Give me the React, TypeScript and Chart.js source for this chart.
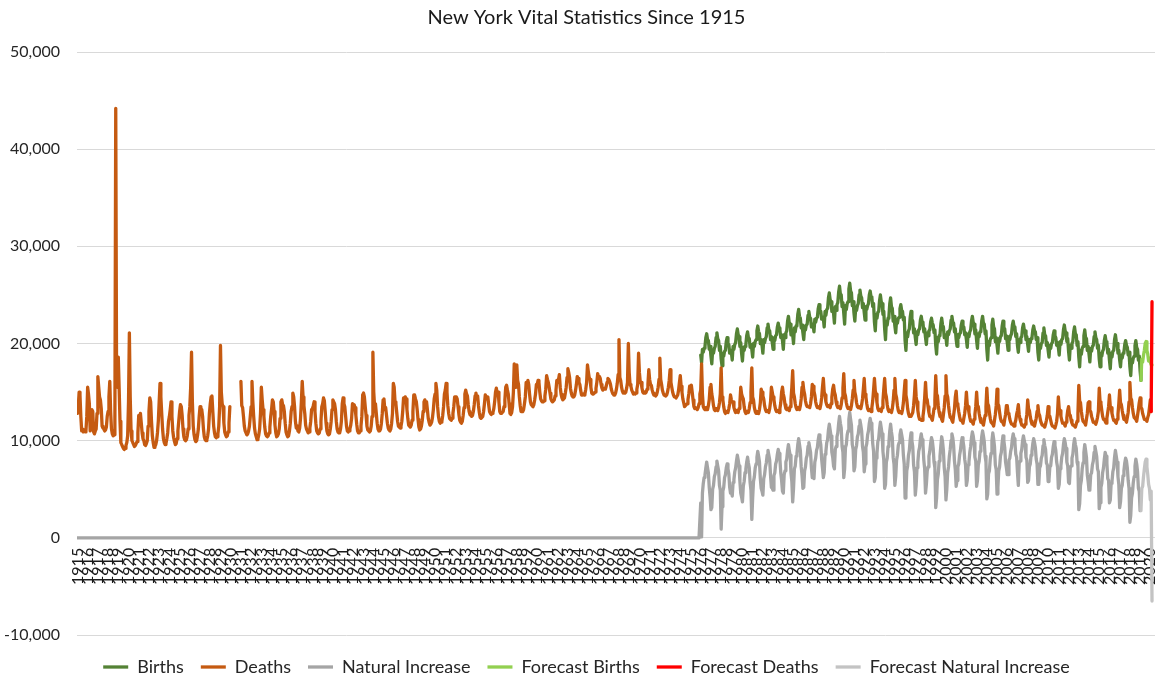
import React, { useEffect, useRef } from 'react';
import { Chart, registerables } from 'chart.js';

Chart.register(...registerables);

// ---------- categories ----------
const firstYear = 1915;
const birthsFirstYear = 1976;
const lastCategory = { year: 2020, month: 6 }; // axis runs to Jun 2020
const yearLabels = [
  1915, 1916, 1917, 1918, 1919, 1920, 1921, 1922, 1923, 1924, 1925, 1926, 1927, 1928, 1929,
  1930, 1931, 1932, 1933, 1934, 1935, 1936, 1937, 1938, 1939, 1940, 1941, 1942, 1943, 1944,
  1945, 1946, 1947, 1948, 1949, 1950, 1951, 1952, 1953, 1954, 1955, 1956, 1957, 1958, 1959,
  1960, 1961, 1962, 1963, 1964, 1965, 1966, 1967, 1968, 1969, 1970, 1971, 1972, 1973, 1974,
  1975, 1976, 1977, 1978, 1979, 1980, 1981, 1982, 1983, 1984, 1985, 1986, 1987, 1988, 1989,
  1990, 1991, 1992, 1993, 1994, 1995, 1996, 1997, 1998, 1999, 2000, 2001, 2002, 2003, 2004,
  2005, 2006, 2007, 2008, 2009, 2010, 2011, 2012, 2013, 2014, 2015, 2016, 2017, 2018, 2019,
  2020,
];
const yTicks = [-10000, 0, 10000, 20000, 30000, 40000, 50000];

// ---------- monthly deaths (Jan..Dec per row) ----------
const deaths1915to1929 = [
  [12800, 13500, 15000, 14700, 12500, 11000, 11200, 10900, 11100, 10900, 11000, 12500],
  [15500, 14800, 13800, 11000, 11200, 13200, 13000, 10900, 10700, 11000, 11200, 12800],
  [16600, 15500, 14500, 14200, 13300, 11500, 11300, 11200, 11000, 11100, 11400, 12500],
  [13000, 14500, 16100, 13000, 11200, 10700, 10500, 10600, 12000, 44200, 16000, 15500],
  [18600, 15400, 12000, 9800, 9600, 9400, 9200, 9100, 9200, 9500, 9800, 10500],
  [14000, 21100, 14500, 11000, 10000, 9800, 9600, 9400, 9500, 9700, 9900, 10800],
  [12600, 12000, 12800, 11800, 10800, 10200, 10000, 9600, 9500, 9700, 10000, 11500],
  [13000, 14400, 14000, 12000, 10500, 9800, 9300, 9400, 9600, 10000, 10800, 12000],
  [14000, 15900, 14500, 12800, 11200, 10200, 9800, 9600, 9700, 10200, 10800, 12000],
  [12500, 13200, 14000, 12500, 11000, 10300, 9900, 9600, 9700, 10200, 11000, 12000],
  [13000, 13700, 13500, 12600, 11200, 10400, 10100, 10000, 10100, 10500, 11200, 12600],
  [13500, 15500, 19100, 14000, 11500, 10600, 10100, 9900, 10000, 10500, 11200, 12500],
  [13500, 13000, 13200, 12500, 11200, 10400, 10100, 10000, 10100, 10500, 11200, 12800],
  [13800, 14500, 14600, 13000, 11500, 10800, 10400, 10300, 10400, 10700, 11500, 13500],
  [19800, 15000, 13800, 13500, 11800, 10900, 10600, 10400, 10500, 10900, 11800, 13500],
];
const deaths1930to1949 = [
  [null, null, null, null, null, null, null, null, null, null, null, null],
  [16100, 13600, 13400, 12500, 11500, 11000, 10800, 10600, 10700, 11000, 11500, 12500],
  [13500, 16100, 14000, 12500, 11300, 10700, 10400, 10100, 10200, 10600, 11200, 12800],
  [15500, 14200, 13200, 12500, 11400, 10700, 10500, 10400, 10500, 10800, 11400, 12500],
  [13200, 14200, 14000, 13000, 11600, 10800, 10400, 10500, 10700, 11200, 12300, 14000],
  [14200, 13700, 13600, 13000, 11800, 10900, 10600, 10400, 10500, 11000, 11800, 13000],
  [13500, 14900, 14500, 13500, 12000, 11300, 11500, 11000, 10900, 11300, 12300, 14000],
  [16100, 14500, 13600, 12800, 11600, 11200, 11000, 10800, 10900, 11300, 12000, 13200],
  [13300, 13600, 14000, 13000, 11800, 11000, 10800, 10700, 10800, 11200, 12000, 13500],
  [13800, 14400, 14100, 13000, 11800, 11000, 10700, 10600, 10700, 11200, 12000, 13200],
  [14200, 14000, 13800, 13200, 12000, 11200, 10900, 10800, 10800, 11200, 12000, 13800],
  [14400, 13800, 13500, 12500, 11500, 11000, 10900, 11000, 11200, 11600, 12300, 13800],
  [13500, 13700, 13400, 12600, 11700, 11000, 10800, 10800, 11000, 11500, 12500, 14700],
  [14900, 14500, 13500, 12600, 11500, 11100, 11000, 10900, 11000, 11500, 12500, 19100],
  [15000, 13500, 13800, 12800, 11800, 11200, 11000, 11000, 11200, 11800, 12800, 14200],
  [14300, 13200, 13400, 12600, 11800, 11300, 11100, 11000, 11200, 11800, 12800, 15900],
  [15500, 14000, 13800, 12900, 12000, 11500, 11400, 11300, 11500, 12000, 13000, 14400],
  [14200, 14500, 14300, 13200, 12300, 11600, 11500, 11400, 11600, 12100, 13000, 14700],
  [14700, 14300, 14000, 13200, 12200, 11400, 11100, 11200, 11500, 12100, 13000, 14000],
  [14200, 13800, 14000, 13200, 12300, 11900, 11600, 11700, 11900, 12400, 13200, 14300],
];
const deaths1950to1969 = [
  [14800, 15900, 15200, 13500, 12500, 12000, 11800, 11900, 12000, 12600, 13500, 14800],
  [15200, 15900, 15000, 13600, 12800, 12300, 12200, 12100, 12300, 12800, 13500, 14500],
  [14500, 14500, 14300, 13500, 12700, 12100, 11900, 11800, 12000, 12600, 13400, 14800],
  [15200, 14800, 14600, 13700, 13000, 12700, 12600, 12500, 12600, 13000, 13700, 14600],
  [14900, 14400, 14600, 13600, 12900, 12400, 12300, 12300, 12500, 13000, 13800, 14700],
  [14500, 14300, 14500, 13700, 13000, 12800, 12700, 12800, 12900, 13300, 14000, 15000],
  [15400, 14800, 15000, 14000, 13000, 12800, 12800, 12900, 13000, 13500, 14200, 15500],
  [15700, 15200, 14800, 13800, 12800, 12700, 12900, 13500, 15000, 17900, 15500, 16500],
  [17800, 16200, 15800, 14500, 13600, 13000, 13100, 13000, 13200, 13800, 14500, 16000],
  [16000, 16200, 15800, 14800, 14000, 13700, 13600, 13500, 13700, 14200, 14800, 15800],
  [15800, 16200, 16000, 15000, 14300, 14100, 14000, 14000, 14100, 14600, 15300, 16700],
  [16300, 16000, 15500, 14900, 14300, 14100, 14000, 14100, 14200, 14600, 15200, 16200],
  [16000, 16300, 16800, 15500, 14800, 14400, 14200, 14300, 14400, 14900, 15500, 16500],
  [17400, 17000, 16500, 15400, 14900, 14600, 14500, 14500, 14700, 15200, 15800, 16600],
  [16400, 16000, 15800, 15200, 14700, 14700, 14800, 14700, 14800, 15300, 16000, 17800],
  [17100, 16500, 16300, 15500, 14900, 14800, 14800, 14900, 15000, 15400, 16000, 16900],
  [16500, 16600, 16400, 15800, 15400, 15200, 15400, 15300, 15300, 15600, 16000, 16400],
  [16300, 16100, 15800, 15300, 15000, 14800, 14700, 14700, 14900, 15300, 15900, 16800],
  [20400, 16500, 16200, 15500, 15100, 14900, 15000, 14900, 15000, 15400, 16000, 20000],
  [17000, 15800, 15600, 15200, 15000, 14800, 14900, 14800, 14900, 15300, 15800, 19000],
];
const deaths1970to1989 = [
  [17000, 16000, 16000, 15400, 15000, 14900, 15000, 14900, 15000, 15300, 15800, 17300],
  [16300, 15800, 15700, 15200, 14900, 14700, 14700, 14600, 14700, 15000, 15500, 16300],
  [18500, 16300, 15800, 15200, 14900, 14700, 14700, 14600, 14700, 15000, 15500, 16200],
  [17300, 16000, 15500, 15000, 14700, 14500, 14500, 14400, 14400, 14700, 15200, 16000],
  [16700, 15600, 15000, 14300, 13900, 13500, 13600, 13700, 13800, 14200, 14800, 15600],
  [15500, 15700, 15000, 14200, 13500, 13300, 13400, 13300, 13200, 13400, 13800, 14800],
  [15200, 17900, 14800, 13500, 13300, 13200, 13400, 13200, 13200, 13600, 14200, 15500],
  [15800, 14800, 14300, 13600, 13200, 13100, 13300, 13200, 13100, 13400, 13900, 14800],
  [17500, 14500, 14200, 13500, 13000, 12800, 13000, 13000, 12900, 13300, 13800, 14700],
  [14200, 14000, 14000, 13400, 13100, 12900, 13100, 13000, 12900, 13300, 13900, 15500],
  [14800, 14500, 14300, 13500, 13000, 12800, 13000, 12900, 12900, 13300, 13900, 15000],
  [17500, 14500, 14200, 13400, 13000, 12800, 13000, 12900, 12800, 13200, 13900, 15300],
  [15000, 14600, 14300, 13600, 13200, 13000, 13100, 13000, 12900, 13300, 14000, 15500],
  [15000, 14500, 14200, 13600, 13200, 13000, 13100, 13000, 12900, 13300, 13900, 15000],
  [15500, 14800, 14400, 13700, 13300, 13200, 13300, 13200, 13100, 13500, 14200, 15500],
  [17200, 14900, 14500, 13800, 13400, 13200, 13400, 13300, 13200, 13600, 14300, 15500],
  [16000, 15200, 14800, 14100, 13700, 13500, 13500, 13500, 13400, 13800, 14500, 15800],
  [15600, 15100, 14700, 14000, 13600, 13400, 13500, 13400, 13300, 13700, 14400, 15500],
  [16400, 15000, 14700, 14000, 13700, 13500, 13600, 13500, 13400, 13800, 14500, 15300],
  [15700, 15000, 14700, 14000, 13600, 13400, 13500, 13400, 13300, 13700, 14400, 15400],
];
const deaths1990to2009 = [
  [16900, 14900, 14600, 13900, 13500, 13300, 13400, 13300, 13200, 13600, 14300, 15200],
  [16200, 15000, 14600, 13900, 13500, 13400, 13500, 13400, 13300, 13700, 14300, 15300],
  [16400, 14800, 14500, 13800, 13300, 13100, 13200, 13100, 13000, 13400, 14100, 15200],
  [16400, 15100, 14800, 13900, 13300, 13100, 13200, 13100, 13000, 13400, 14100, 15300],
  [16400, 14900, 14500, 13700, 13200, 13000, 13100, 13000, 12900, 13300, 14000, 15200],
  [16400, 14800, 14400, 13600, 13100, 12900, 13000, 12900, 12800, 13200, 13900, 15100],
  [16200, 14700, 14200, 13300, 12800, 12500, 12600, 12500, 12500, 12900, 13600, 14700],
  [16200, 14500, 14000, 13100, 12500, 12200, 12200, 12100, 12100, 12500, 13200, 14400],
  [16000, 14400, 14200, 13500, 12900, 12500, 12500, 12300, 12100, 12700, 13300, 14200],
  [16700, 14800, 14600, 13600, 12900, 12500, 12500, 12200, 12000, 12700, 13400, 14600],
  [16700, 14800, 14500, 13600, 12900, 12400, 12400, 12100, 11900, 12600, 13300, 14500],
  [15100, 13800, 13600, 13000, 12500, 12100, 12100, 12000, 11800, 12300, 12800, 13600],
  [15000, 13700, 13500, 12900, 12400, 12000, 12000, 11900, 11700, 12200, 12700, 13500],
  [15000, 13600, 13500, 12800, 12300, 11900, 11900, 11800, 11600, 12100, 12600, 13500],
  [15400, 13800, 13600, 12900, 12300, 11900, 11900, 11700, 11500, 12100, 12700, 13600],
  [15300, 13800, 13600, 12900, 12300, 12000, 12000, 11800, 11600, 12200, 12700, 13600],
  [13600, 12800, 12700, 12200, 11900, 11700, 11700, 11600, 11500, 11800, 12100, 12700],
  [13100, 13700, 12700, 12200, 11900, 11600, 11600, 11500, 11400, 11700, 12100, 12700],
  [14200, 13300, 13100, 12500, 12000, 11700, 11700, 11600, 11500, 11900, 12300, 13000],
  [13600, 12800, 12600, 12100, 11800, 11600, 11600, 11500, 11400, 11700, 12100, 12600],
];
const deaths2010to2020 = [
  [13500, 12600, 12500, 12100, 11700, 11500, 11500, 11400, 11300, 11600, 12000, 12800],
  [14500, 13300, 13100, 12500, 12100, 11800, 11800, 11700, 11500, 11900, 12400, 13100],
  [13500, 12700, 12600, 12100, 11800, 11600, 11600, 11500, 11400, 11700, 12000, 12800],
  [15700, 14100, 13900, 13000, 12400, 12000, 12000, 11800, 11600, 12200, 12800, 13900],
  [14000, 13100, 13000, 12500, 12200, 11900, 11900, 11800, 11700, 12000, 12400, 13000],
  [15400, 14000, 13800, 13100, 12500, 12200, 12200, 12000, 11800, 12300, 12900, 13500],
  [14700, 13500, 13400, 12800, 12400, 12100, 12100, 11900, 11800, 12200, 12700, 13800],
  [15200, 13900, 13700, 13100, 12600, 12200, 12200, 12100, 11900, 12400, 12900, 14000],
  [16000, 14400, 14200, 13400, 12800, 12400, 12400, 12200, 12000, 12600, 13200, 13900],
  [14400, 13400, 13300, 12800, 12500, 12200, 12200, 12100, 12000, 12400, 12700, 13400],
  [14200, 13000],
];

// ---------- monthly births (Jan..Dec per row), from 1976 ----------
const births1976to1989 = [
  [18800, 18000, 19400, 19100, 19500, 19700, 20600, 21000, 20400, 20300, 19400, 19700],
  [18700, 17900, 19300, 19000, 19500, 19700, 20600, 21100, 20500, 20300, 19300, 19700],
  [18400, 17700, 19000, 18700, 19200, 19300, 20200, 20600, 20000, 19900, 19000, 19300],
  [19100, 18300, 19700, 19400, 19900, 20100, 21000, 21500, 20900, 20700, 19700, 20100],
  [19000, 18200, 19600, 19300, 19700, 19900, 20800, 21200, 20600, 20500, 19600, 19900],
  [19400, 18600, 20000, 19700, 20200, 20400, 21300, 21800, 21200, 21000, 20000, 20400],
  [19800, 19000, 20400, 20100, 20500, 20700, 21600, 22000, 21400, 21300, 20400, 20700],
  [20100, 19400, 20600, 20300, 20800, 20900, 21700, 22100, 21600, 21400, 20600, 20900],
  [20300, 19400, 20900, 20600, 21100, 21300, 22300, 22800, 22100, 22000, 20900, 21300],
  [20900, 20000, 21600, 21200, 21800, 21900, 23000, 23500, 22800, 22600, 21600, 21900],
  [21100, 20400, 21700, 21400, 21900, 22000, 22900, 23300, 22700, 22600, 21700, 22000],
  [21900, 21200, 22500, 22200, 22600, 22700, 23600, 24000, 23400, 23300, 22500, 22700],
  [22600, 21700, 23300, 22900, 23500, 23600, 24700, 25200, 24500, 24300, 23300, 23600],
  [23100, 22100, 23800, 23400, 24000, 24200, 25300, 25900, 25100, 25000, 23800, 24200],
];
const births1990to2004 = [
  [23100, 22000, 23900, 23500, 24100, 24300, 25600, 26200, 25400, 25200, 23900, 24300],
  [23100, 22300, 23700, 23400, 23900, 24100, 25000, 25500, 24900, 24700, 23700, 24100],
  [23200, 22400, 23800, 23500, 23900, 24100, 25000, 25400, 24800, 24700, 23800, 24100],
  [22200, 21300, 23000, 22600, 23200, 23300, 24400, 25000, 24300, 24100, 23000, 23300],
  [21500, 20400, 22300, 21900, 22600, 22800, 24100, 24700, 23800, 23600, 22300, 22800],
  [21800, 21100, 22400, 22100, 22600, 22700, 23600, 24000, 23400, 23300, 22400, 22700],
  [20300, 19300, 21100, 20700, 21300, 21500, 22700, 23300, 22500, 22300, 21100, 21500],
  [20600, 19900, 21200, 20900, 21400, 21500, 22400, 22800, 22200, 22100, 21200, 21500],
  [20600, 19900, 21100, 20800, 21300, 21400, 22200, 22600, 22100, 21900, 21100, 21400],
  [19800, 18900, 20600, 20200, 20800, 20900, 22000, 22600, 21900, 21700, 20600, 20900],
  [20600, 19800, 21200, 20900, 21300, 21500, 22400, 22800, 22200, 22100, 21200, 21500],
  [20400, 19700, 20900, 20600, 21000, 21100, 21900, 22300, 21800, 21700, 20900, 21100],
  [20400, 19600, 21000, 20700, 21200, 21400, 22300, 22800, 22200, 22000, 21000, 21400],
  [20300, 19500, 21000, 20700, 21200, 21300, 22300, 22800, 22100, 22000, 21000, 21300],
  [19400, 18300, 20200, 19800, 20400, 20600, 21900, 22500, 21700, 21500, 20200, 20600],
];
const births2005to2019 = [
  [19800, 19000, 20500, 20200, 20700, 20800, 21800, 22300, 21600, 21500, 20500, 20800],
  [20100, 19300, 20700, 20400, 20800, 21000, 21900, 22300, 21700, 21600, 20700, 21000],
  [19800, 19100, 20400, 20100, 20600, 20700, 21600, 22000, 21400, 21300, 20400, 20700],
  [19900, 19200, 20400, 20100, 20500, 20600, 21400, 21800, 21300, 21200, 20400, 20600],
  [19100, 18300, 19800, 19500, 20000, 20100, 21100, 21600, 20900, 20800, 19800, 20100],
  [19300, 18600, 19800, 19500, 20000, 20100, 20900, 21300, 20800, 20600, 19800, 20100],
  [19600, 18800, 20200, 19900, 20400, 20500, 21400, 21900, 21300, 21100, 20200, 20500],
  [19200, 18300, 19800, 19500, 20000, 20200, 21200, 21700, 21000, 20900, 19800, 20200],
  [18600, 17600, 19300, 18900, 19500, 19700, 20800, 21400, 20600, 20500, 19300, 19700],
  [18900, 18100, 19500, 19200, 19700, 19800, 20700, 21200, 20600, 20400, 19500, 19800],
  [18400, 17600, 19000, 18700, 19200, 19400, 20300, 20800, 20200, 20000, 19000, 19400],
  [18300, 17400, 19000, 18600, 19200, 19300, 20400, 20900, 20200, 20000, 19000, 19300],
  [18300, 17600, 18800, 18500, 19000, 19100, 19900, 20300, 19800, 19600, 18800, 19100],
  [17600, 16700, 18300, 18000, 18500, 18700, 19800, 20300, 19600, 19400, 18300, 18700],
  [17200, 16200],
];

// ---------- forecasts ----------
const forecastBirthsStart = { year: 2019, month: 2 };
const forecastBirths = [16200, 18400, 18100, 18800, 19300, 20000, 20200, 19300, 18900, 18200, 18500, 18100, 17800, 17800];
const forecastDeathsStart = { year: 2020, month: 2 };
const forecastDeaths = [13000, 24300];

// ---------- tables built from the arrays ----------
const monthIndex = (year: number, month: number) => (year - firstYear) * 12 + (month - 1);
const xOf = (idx: number) => firstYear + idx / 12;

const deathsSeries: (number | null)[] = [
  ...deaths1915to1929.flat(),
  ...deaths1930to1949.flat(),
  ...deaths1950to1969.flat(),
  ...deaths1970to1989.flat(),
  ...deaths1990to2009.flat(),
  ...deaths2010to2020.flat(),
];
const birthsSeries: number[] = [
  ...births1976to1989.flat(),
  ...births1990to2004.flat(),
  ...births2005to2019.flat(),
];
const birthsOffset = monthIndex(birthsFirstYear, 1);
const fbOffset = monthIndex(forecastBirthsStart.year, forecastBirthsStart.month);
const fdOffset = monthIndex(forecastDeathsStart.year, forecastDeathsStart.month);

const birthAt = (i: number) => (i >= birthsOffset && i - birthsOffset < birthsSeries.length ? birthsSeries[i - birthsOffset] : null);
const deathAt = (i: number) => {
  const d = deathsSeries[i];
  if (d != null) return d;
  const f = forecastDeaths[i - fdOffset];
  return f == null ? null : f;
};

const deathsPts = deathsSeries.map((v, i) => ({ x: xOf(i), y: v }));
const birthsPts = birthsSeries.map((v, k) => ({ x: xOf(birthsOffset + k), y: v }));
const lastActualIdx = birthsOffset + birthsSeries.length - 1;
const niPts: { x: number; y: number | null }[] = [];
for (let i = 0; i <= lastActualIdx; i++) {
  const b = birthAt(i);
  const d = deathsSeries[i];
  niPts.push({ x: xOf(i), y: b == null ? 0 : d == null ? null : b - d });
}
const fbPts = forecastBirths.map((v, k) => ({ x: xOf(fbOffset + k), y: v }));
const fdPts = forecastDeaths.map((v, k) => ({ x: xOf(fdOffset + k), y: v }));
const fniPts = forecastBirths.map((v, k) => {
  const d = deathAt(fbOffset + k);
  return { x: xOf(fbOffset + k), y: d == null ? null : v - d };
});

const FONT = 'Lato, "Open Sans", sans-serif';

// nudges the centred title and legend so they sit like the original's
const shiftBlocks = {
  id: 'shiftBlocks',
  afterLayout(chart: any) {
    for (const b of [chart.titleBlock, chart.legend]) {
      if (b) {
        b.left += 9;
        b.right += 9;
      }
    }
  },
};

export default function App() {
  const ref = useRef<HTMLCanvasElement | null>(null);
  useEffect(() => {
    if (!ref.current) return;
    const lineDs = (label: string, data: any[], color: string, order: number) => ({
      label,
      data,
      borderColor: color,
      backgroundColor: color,
      borderWidth: 3.3,
      pointRadius: 0,
      pointHoverRadius: 0,
      tension: 0,
      spanGaps: false,
      borderJoinStyle: 'round' as const,
      borderCapStyle: 'round' as const,
      order,
    });
    const xMax = xOf(monthIndex(lastCategory.year, lastCategory.month)) + 0.5 / 12;
    const chart = new Chart(ref.current, {
      type: 'line',
      data: {
        datasets: [
          lineDs('Births', birthsPts, '#548235', 6),
          lineDs('Deaths', deathsPts, '#C55A11', 5),
          lineDs('Natural Increase', niPts, '#A5A5A5', 4),
          lineDs('Forecast Births', fbPts, '#92D050', 3),
          lineDs('Forecast Deaths', fdPts, '#FF0000', 2),
          lineDs('Forecast Natural Increase', fniPts, '#C3C3C3', 1),
        ],
      },
      plugins: [shiftBlocks],
      options: {
        animation: false,
        responsive: true,
        maintainAspectRatio: false,
        events: [],
        layout: { padding: { top: 0, left: 0, right: 15, bottom: -8 } },
        scales: {
          x: {
            type: 'linear',
            position: { y: 0 } as any,
            min: firstYear - 0.5 / 12,
            max: xMax,
            bounds: 'data',
            grid: { display: false, drawTicks: false },
            border: { display: false },
            afterBuildTicks: (axis: any) => {
              axis.ticks = yearLabels.map((y) => ({ value: y }));
            },
            afterFit: (s: any) => {
              s.paddingLeft = 0;
              s.paddingRight = 0;
            },
            ticks: {
              autoSkip: false,
              minRotation: 90,
              maxRotation: 90,
              padding: 10,
              color: '#1a1a1a',
              font: { family: FONT, size: 16 },
              callback: (v: any) => String(v),
            },
          },
          y: {
            type: 'linear',
            min: -10000,
            max: 50000,
            afterFit: (s: any) => {
              s.width = 77;
            },
            afterBuildTicks: (axis: any) => {
              axis.ticks = yTicks.map((v) => ({ value: v }));
            },
            grid: { color: '#D9D9D9', lineWidth: 1, drawTicks: false },
            border: { display: false },
            ticks: {
              padding: 17,
              color: '#262626',
              font: { family: FONT, size: 16 },
              callback: (v: any) => Number(v).toLocaleString('en-US'),
            },
          },
        },
        plugins: {
          title: {
            display: true,
            text: 'New York Vital Statistics Since 1915',
            color: '#1a1a1a',
            font: { family: FONT, size: 20, weight: 'normal' },
            padding: { top: 6, bottom: 22 },
          },
          legend: {
            display: true,
            position: 'bottom',
            title: { display: true, text: '', font: { size: 5 }, padding: { top: 0, bottom: 0 } },
            labels: {
              usePointStyle: true,
              pointStyle: 'line',
              pointStyleWidth: 25,
              padding: 17,
              color: '#262626',
              font: { family: FONT, size: 18 },
              sort: (a: any, b: any) => a.datasetIndex - b.datasetIndex,
            },
          },
          tooltip: { enabled: false },
        },
      },
    });
    return () => chart.destroy();
  }, []);
  return (
    <div style={{ position: 'fixed', left: 0, top: 0, width: 1170, height: 678, background: '#ffffff' }}>
      <canvas ref={ref} />
    </div>
  );
}
